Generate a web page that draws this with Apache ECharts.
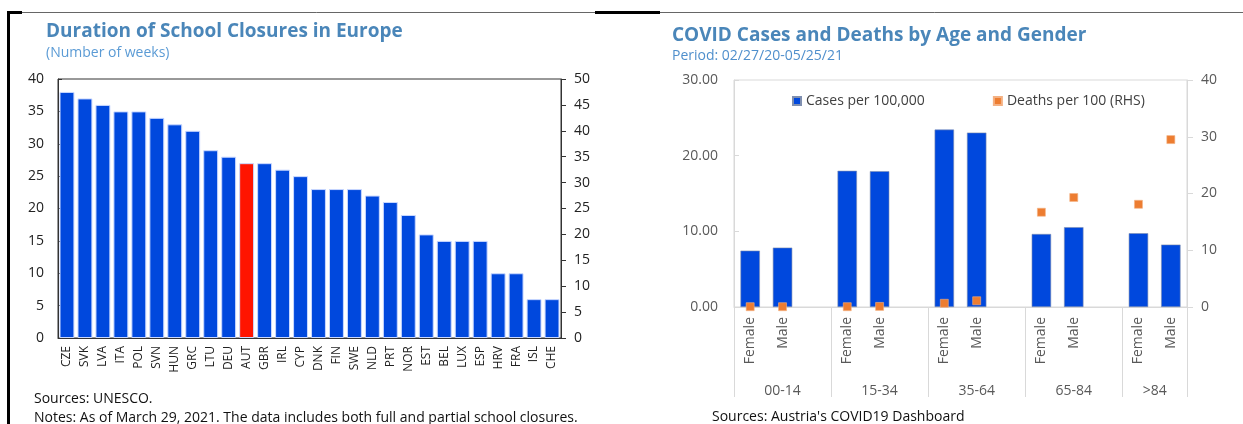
<!DOCTYPE html>
<html>
<head>
<meta charset="utf-8">
<script src="https://cdn.jsdelivr.net/npm/echarts@6/dist/echarts.min.js"></script>
<style>
  html, body { margin: 0; padding: 0; background: #fff; }
  #chart { width: 1243px; height: 424px; }
</style>
</head>
<body>
<div id="chart"></div>
<script>
  // left panel: weeks of school closures
  const countries = ['CZE', 'SVK', 'LVA', 'ITA', 'POL', 'SVN', 'HUN', 'GRC', 'LTU', 'DEU', 'AUT', 'GBR', 'IRL', 'CYP',
    'DNK', 'FIN', 'SWE', 'NLD', 'PRT', 'NOR', 'EST', 'BEL', 'LUX', 'ESP', 'HRV', 'FRA', 'ISL', 'CHE']
  const weeks = [38, 37, 36, 35, 35, 34, 33, 32, 29, 28, 27, 27, 26, 25,
    23, 23, 23, 22, 21, 19, 16, 15, 15, 15, 10, 10, 6, 6]
  const highlight = 'AUT'

  // right panel: cases and deaths by age group and gender
  const ageGroups = ['00-14', '15-34', '35-64', '65-84', '>84']
  const genders = ['Female', 'Male']
  const casesFemale = [7.45, 18.0, 23.45, 9.65, 9.75]
  const casesMale = [7.85, 17.95, 23.05, 10.55, 8.25]
  const deathsFemale = [0.05, 0.05, 0.65, 16.7, 18.1]
  const deathsMale = [0.05, 0.1, 1.1, 19.3, 29.5]

  const blue = '#0048DD'
  const red = '#FF1400'
  const orange = '#ED7D31'
  const grey = '#D9D9D9'
  const font = '"Open Sans", "Noto Sans", sans-serif'

  // one slot per gender, plus an empty slot between age groups
  const slots = []
  const cases = []
  const deaths = []
  const groupEdges = [0]
  const groupCentres = []
  ageGroups.forEach((g, i) => {
    const start = slots.length
    genders.forEach((s) => {
      slots.push(s)
      cases.push(s === 'Female' ? casesFemale[i] : casesMale[i])
      deaths.push(s === 'Female' ? deathsFemale[i] : deathsMale[i])
    })
    if (i < ageGroups.length - 1) {
      slots.push('')
      cases.push('-')
      deaths.push('-')
    }
    groupEdges.push(slots.length)
    groupCentres.push((start + slots.length) / 2)
  })

  const chart = echarts.init(document.getElementById('chart'))
  chart.setOption({
    backgroundColor: '#fff',
    textStyle: { fontFamily: font },
    animation: false,
    title: [
      {
        text: 'Duration of School Closures in Europe',
        subtext: '(Number of weeks)',
        left: 41,
        top: 17,
        itemGap: 5,
        textStyle: { fontFamily: font, fontSize: 19, fontWeight: 'bold', color: '#4A86B9' },
        subtextStyle: { fontFamily: font, fontSize: 14, color: '#5B9BD5' }
      },
      {
        text: 'COVID Cases and Deaths by Age and Gender',
        subtext: 'Period: 02/27/20-05/25/21',
        left: 667,
        top: 21,
        itemGap: 4,
        textStyle: { fontFamily: font, fontSize: 19, fontWeight: 'bold', color: '#4A86B9' },
        subtextStyle: { fontFamily: font, fontSize: 14, color: '#4F8FCC' }
      },
      {
        text: 'Sources: UNESCO.',
        left: 29,
        top: 387,
        textStyle: { fontFamily: font, fontSize: 14, fontWeight: 'normal', color: '#111' }
      },
      {
        text: 'Notes: As of March 29, 2021. The data includes both full and partial school closures.',
        left: 29,
        top: 406,
        textStyle: { fontFamily: font, fontSize: 14, fontWeight: 'normal', color: '#111' }
      },
      {
        text: 'Sources: Austria\'s COVID19 Dashboard',
        left: 707,
        top: 405,
        textStyle: { fontFamily: font, fontSize: 14, fontWeight: 'normal', color: '#111' }
      }
    ],
    legend: {
      left: 787,
      top: 89,
      itemGap: 68,
      itemWidth: 8,
      itemHeight: 8,
      icon: 'rect',
      textStyle: { fontFamily: font, fontSize: 14, color: '#404040' },
      data: ['Cases per 100,000', 'Deaths per 100 (RHS)']
    },
    grid: [
      { left: 58, right: 682, top: 79, bottom: 86, show: true, borderColor: '#333', borderWidth: 1 },
      { left: 734, right: 56, top: 80, bottom: 117, show: true, borderColor: grey, borderWidth: 1 }
    ],
    xAxis: [
      {
        type: 'category',
        gridIndex: 0,
        data: countries,
        axisLine: { lineStyle: { color: '#333' } },
        axisTick: { interval: 0, inside: true, length: 4, lineStyle: { color: '#333' } },
        axisLabel: { interval: 0, rotate: 90, margin: 8, fontSize: 12, color: '#222' }
      },
      {
        type: 'category',
        gridIndex: 1,
        data: slots,
        axisLine: { lineStyle: { color: grey } },
        axisTick: { interval: 0, length: 58, lineStyle: { color: grey } },
        axisLabel: { interval: 0, rotate: 90, margin: 10, fontSize: 14, color: '#595959' }
      },
      {
        type: 'value',
        gridIndex: 1,
        position: 'bottom',
        min: 0,
        max: slots.length,
        axisLine: { show: false },
        splitLine: { show: false },
        axisTick: { show: true, customValues: groupEdges, length: 90, lineStyle: { color: grey } },
        axisLabel: {
          customValues: groupCentres,
          margin: 77,
          fontSize: 14,
          color: '#595959',
          formatter: (v) => ageGroups[groupCentres.indexOf(v)]
        }
      }
    ],
    yAxis: [
      {
        type: 'value',
        gridIndex: 0,
        min: 0,
        max: 40,
        interval: 5,
        axisLine: { show: true, lineStyle: { color: '#333' } },
        axisTick: { show: true, inside: true, length: 4, lineStyle: { color: '#333' } },
        splitLine: { show: false },
        axisLabel: { margin: 14, fontSize: 14, color: '#222' }
      },
      {
        type: 'value',
        gridIndex: 0,
        position: 'right',
        min: 0,
        max: 50,
        interval: 5,
        axisLine: { show: true, lineStyle: { color: '#333' } },
        axisTick: { show: true, length: 5, lineStyle: { color: '#333' } },
        splitLine: { show: false },
        axisLabel: { margin: 13, fontSize: 14, color: '#222' }
      },
      {
        type: 'value',
        gridIndex: 1,
        min: 0,
        max: 30,
        interval: 10,
        axisLine: { show: true, lineStyle: { color: grey } },
        axisTick: { show: true, inside: true, length: 5, lineStyle: { color: grey } },
        splitLine: { show: false },
        axisLabel: { margin: 16, fontSize: 14, color: '#595959', formatter: (v) => v.toFixed(2) }
      },
      {
        type: 'value',
        gridIndex: 1,
        position: 'right',
        min: 0,
        max: 40,
        interval: 10,
        axisLine: { show: true, lineStyle: { color: grey } },
        axisTick: { show: true, length: 6, lineStyle: { color: grey } },
        splitLine: { show: false },
        axisLabel: { margin: 14, fontSize: 14, color: '#595959' }
      }
    ],
    series: [
      {
        name: 'Weeks',
        type: 'bar',
        xAxisIndex: 0,
        yAxisIndex: 0,
        barCategoryGap: '17%',
        itemStyle: { borderColor: '#C9D8FF', borderWidth: 1 },
        data: weeks.map((v, i) => ({
          value: v,
          itemStyle: { color: countries[i] === highlight ? red : blue }
        }))
      },
      {
        name: 'Cases per 100,000',
        type: 'bar',
        xAxisIndex: 1,
        yAxisIndex: 2,
        barCategoryGap: '40%',
        itemStyle: { color: blue, borderColor: '#7F8FB0', borderWidth: 0.6 },
        data: cases
      },
      {
        name: 'Deaths per 100 (RHS)',
        type: 'scatter',
        xAxisIndex: 1,
        yAxisIndex: 3,
        symbol: 'rect',
        symbolSize: 8,
        itemStyle: { color: orange, borderColor: '#F4B183', borderWidth: 0.6, opacity: 1 },
        z: 5,
        data: deaths
      }
    ],
    graphic: [
      { type: 'line', shape: { x1: 8, y1: 12.5, x2: 1243, y2: 12.5 }, style: { stroke: '#666', lineWidth: 1 } },
      { type: 'line', shape: { x1: 8, y1: 12.5, x2: 22, y2: 12.5 }, style: { stroke: '#000', lineWidth: 3 } },
      { type: 'line', shape: { x1: 595, y1: 12.5, x2: 660, y2: 12.5 }, style: { stroke: '#000', lineWidth: 3 } },
      { type: 'line', shape: { x1: 8.5, y1: 11, x2: 8.5, y2: 424 }, style: { stroke: '#000', lineWidth: 3 } }
    ]
  })
</script>
</body>
</html>
